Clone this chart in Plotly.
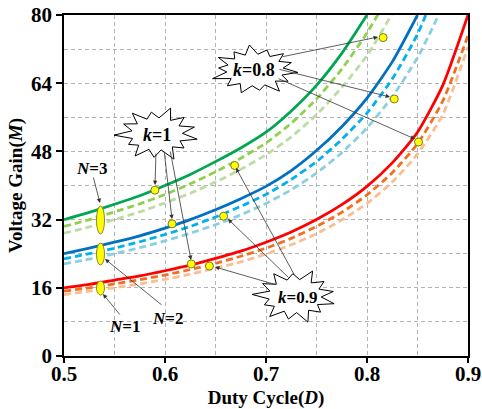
import math
import plotly.graph_objects as go

# ---------------- data ----------------
D = [0.5, 0.525, 0.55, 0.575, 0.6, 0.625, 0.65, 0.675, 0.7, 0.725, 0.75,
     0.775, 0.8, 0.825, 0.85, 0.875, 0.9]

# N=3 (green)
M_N3_k10 = [32.0, 33.7, 35.6, 37.6, 40.0, 42.6, 45.6, 48.8, 52.5, 57.5, 63.5, 71.0, 80.0]
M_N3_k09 = [30.4, 32.0, 33.8, 35.7, 37.9, 40.4, 43.2, 46.4, 50.0, 54.6, 60.3, 67.3, 75.8, 86.0]
M_N3_k08 = [28.8, 30.3, 32.0, 33.8, 35.9, 38.2, 40.8, 43.8, 47.2, 51.4, 56.6, 63.0, 70.5, 80.5, 95.0]
# N=2 (blue)
M_N2_k10 = [24.0, 25.3, 26.7, 28.2, 30.0, 32.0, 34.3, 36.9, 39.8, 43.5, 48.2, 53.8, 60.5, 69.0, 80.0]
M_N2_k09 = [22.8, 24.0, 25.3, 26.8, 28.5, 30.4, 32.6, 35.1, 37.9, 41.4, 45.6, 50.8, 57.0, 65.0, 75.5, 90.0]
M_N2_k08 = [21.6, 22.7, 24.0, 25.4, 27.0, 28.8, 30.8, 33.1, 35.8, 39.0, 42.9, 47.7, 53.5, 60.8, 70.0, 82.0]
# N=1 (red)
M_N1_k10 = [16.0, 16.8, 17.8, 18.8, 20.0, 21.3, 22.9, 24.6, 26.7, 29.1, 32.0, 35.5, 39.8, 45.3, 52.5, 63.5, 80.0]
M_N1_k09 = [15.2, 16.0, 16.9, 17.9, 19.0, 20.3, 21.7, 23.4, 25.3, 27.6, 30.4, 33.7, 37.8, 43.0, 49.8, 59.8, 75.2]
M_N1_k08 = [14.4, 15.2, 16.0, 16.9, 18.0, 19.2, 20.6, 22.1, 23.9, 26.1, 28.7, 31.9, 35.8, 40.8, 47.4, 56.6, 72.5]

# highlighted points (yellow dots)
pt_D = [0.590, 0.607, 0.626, 0.669, 0.658, 0.644, 0.816, 0.827, 0.851]
pt_M = [38.9, 31.0, 21.6, 44.7, 32.8, 21.1, 74.7, 60.3, 50.2]

x_ticks = [0.5, 0.6, 0.7, 0.8, 0.9]
y_ticks = [0, 16, 32, 48, 64, 80]

# ---------------- styling / layout helpers ----------------
W, H = 482, 409
PL, PR, PT, PB = 64, 468, 15, 356   # plot area in pixels
XR = (0.5, 0.9)
YR = (0, 80)


def px(x, y):
    """reference pixel -> data coordinates (used only for decorations)"""
    dx = XR[0] + (x - PL) / (PR - PL) * (XR[1] - XR[0])
    dy = YR[0] + (PB - y) / (PB - PT) * (YR[1] - YR[0])
    return dx, dy


FONT = "Liberation Serif, Times New Roman, serif"
fig = go.Figure()

series = [
    (M_N3_k10, "#00A651", "solid"),
    (M_N3_k09, "#8FD14F", "7px,4px"),
    (M_N3_k08, "#BCDCA4", "7px,4px"),
    (M_N2_k10, "#0070C0", "solid"),
    (M_N2_k09, "#00B0F0", "7px,4px"),
    (M_N2_k08, "#8CCFE3", "7px,4px"),
    (M_N1_k10, "#FF0000", "solid"),
    (M_N1_k09, "#F07020", "7px,4px"),
    (M_N1_k08, "#F9BE96", "7px,4px"),
]
for ys, col, dash in series:
    fig.add_trace(go.Scatter(
        x=D[:len(ys)], y=ys, mode="lines",
        line=dict(color=col, width=2.8, dash=dash, shape="spline", smoothing=0.6),
        showlegend=False, hoverinfo="skip"))

fig.add_trace(go.Scatter(
    x=pt_D, y=pt_M, mode="markers",
    marker=dict(size=8, color="#FFFF00", line=dict(color="#7A7A2A", width=1)),
    showlegend=False, hoverinfo="skip"))

shapes = []

# yellow ellipses at the curve starts
for (y0p, y1p) in [(206, 234), (243, 265), (281, 295)]:
    x0, y0 = px(96.5, y1p)
    x1, y1 = px(104.5, y0p)
    shapes.append(dict(type="circle", xref="x", yref="y", x0=x0, x1=x1, y0=y0, y1=y1,
                       fillcolor="#FFFF00", line=dict(color="#8A8A30", width=1), layer="above"))


def star(cx, cy, rx, ry, mults, inner, rot):
    n = len(mults)
    pts = []
    for i, m in enumerate(mults):
        a = rot + 2 * math.pi * i / n
        pts.append((cx + rx * m * math.cos(a), cy + ry * m * math.sin(a)))
        a2 = a + math.pi / n
        pts.append((cx + rx * inner * math.cos(a2), cy + ry * inner * math.sin(a2)))
    d = []
    for j, (x, y) in enumerate(pts):
        X, Y = px(x, y)
        d.append(("M" if j == 0 else "L") + f"{X:.5f},{Y:.5f}")
    return " ".join(d) + " Z"


star_specs = [
    (157, 134, 41, 26, [1.0, 0.85, 1.05, 0.9, 1.0, 0.8, 1.05, 0.9, 1.0, 0.85, 1.05, 0.92, 0.95], 0.62, 0.2),
    (255, 70, 43, 24, [1.0, 0.9, 1.05, 0.85, 1.0, 0.92, 1.05, 0.85, 1.0, 0.9, 1.05, 0.88, 0.95, 0.9], 0.66, 0.1),
    (295, 296, 41, 26, [1.0, 0.88, 1.05, 0.9, 1.0, 0.82, 1.05, 0.92, 1.0, 0.86, 1.05, 0.9, 0.95], 0.64, 0.3),
]
for cx, cy, rx, ry, mults, inner, rot in star_specs:
    shapes.append(dict(type="path", xref="x", yref="y", path=star(cx, cy, rx, ry, mults, inner, rot),
                       fillcolor="white", line=dict(color="black", width=1), layer="above"))

annotations = []


def arrow(tail, head):
    hx, hy = px(*head)
    tx, ty = px(*tail)
    annotations.append(dict(x=hx, y=hy, ax=tx, ay=ty, xref="x", yref="y", axref="x", ayref="y",
                            text="", showarrow=True, arrowhead=2, arrowsize=1.1,
                            arrowwidth=0.8, arrowcolor="#333333"))


def label(pos, text, size=17):
    x, y = px(*pos)
    annotations.append(dict(x=x, y=y, xref="x", yref="y", text=text, showarrow=False,
                            font=dict(family=FONT, size=size, color="black", weight="bold")))


# k = 1
arrow((156, 152), (155, 185))
arrow((164, 150), (172, 219))
arrow((170, 150), (191, 260))
label((157, 135), "<i>k</i>=1", 18)
# k = 0.9
arrow((277, 285), (215, 267))
arrow((290, 279), (228, 219))
arrow((295, 276), (236, 168))
label((297, 297), "<i>k</i>=0.9", 17)
# k = 0.8
arrow((281, 57), (378, 37))
arrow((278, 69), (390, 97))
arrow((277, 78), (415, 139))
label((254, 70), "<i>k</i>=0.8", 18)
# N labels
arrow((93, 176), (100, 203))
label((91, 168), "<i>N</i>=3", 17)
arrow((163, 306), (105, 259))
label((167, 318), "<i>N</i>=2", 17)
arrow((121, 316), (103, 294))
label((124, 326), "<i>N</i>=1", 17)

grid = dict(color="#B4B4B4", width=1, dash="4px,3px")

fig.update_layout(
    width=W, height=H, autosize=False,
    margin=dict(l=PL, r=W - PR, t=PT, b=H - PB, pad=0, autoexpand=False),
    paper_bgcolor="white", plot_bgcolor="white",
    shapes=shapes, annotations=annotations,
    font=dict(family=FONT, color="black"),
    xaxis=dict(range=list(XR), tickvals=x_ticks, ticktext=[f"{v:.1f}" for v in x_ticks],
               automargin=False, ticklabeloverflow="allow", ticklabelstandoff=-7,
               showgrid=True, gridcolor=grid["color"], gridwidth=1, griddash=grid["dash"],
               minor=dict(dtick=0.05, tick0=0.5, showgrid=True, gridcolor=grid["color"],
                          gridwidth=1, griddash=grid["dash"]),
               showline=True, linecolor="black", linewidth=1.5, mirror=True,
               ticks="outside", ticklen=5, tickcolor="black", tickwidth=1.5,
               tickfont=dict(family=FONT, size=21, weight="bold"),
               title=dict(text="Duty Cycle(<i>D</i>)", standoff=9,
                          font=dict(family=FONT, size=19, weight="bold")),
               zeroline=False, fixedrange=True),
    yaxis=dict(range=list(YR), tickvals=y_ticks, ticktext=[str(v) for v in y_ticks],
               automargin=False, ticklabeloverflow="allow",
               showgrid=True, gridcolor=grid["color"], gridwidth=1, griddash=grid["dash"],
               minor=dict(dtick=8, tick0=0, showgrid=True, gridcolor=grid["color"],
                          gridwidth=1, griddash=grid["dash"]),
               showline=True, linecolor="black", linewidth=1.5, mirror=True,
               ticks="outside", ticklen=6, tickcolor="black", tickwidth=1.5,
               tickfont=dict(family=FONT, size=21, weight="bold"),
               title=dict(text="Voltage Gain(<i>M</i>)", standoff=3,
                          font=dict(family=FONT, size=19, weight="bold")),
               zeroline=False, fixedrange=True),
)

fig.write_html("out.html", config={"displayModeBar": False},
               post_script="document.body.style.margin='0';")
